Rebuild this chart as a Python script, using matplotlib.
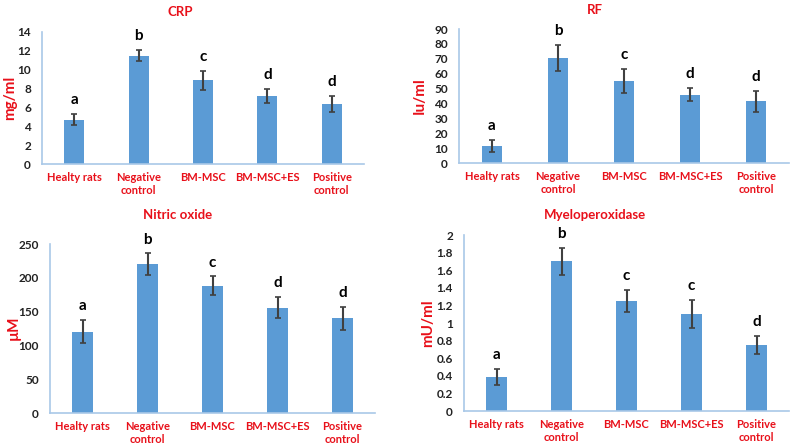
import matplotlib
matplotlib.use("Agg")
from matplotlib import pyplot as plt
import numpy as np

plt.rcParams['font.family'] = ['Lato', 'DejaVu Sans']
plt.rcParams['font.weight'] = 'bold'

groups = ['Healty rats', 'Negative\ncontrol', 'BM-MSC', 'BM-MSC+ES', 'Positive\ncontrol']

crp_vals = [4.7, 11.5, 8.9, 7.2, 6.35]
crp_err = [0.6, 0.6, 1.0, 0.75, 0.85]
crp_letters = ['a', 'b', 'c', 'd', 'd']

rf_vals = [11.5, 70.5, 55, 46, 41.5]
rf_err = [4, 8.5, 8, 4.5, 7]
rf_letters = ['a', 'b', 'c', 'd', 'd']

no_vals = [120, 220, 188, 156, 140]
no_err = [17, 16, 14, 16, 17]
no_letters = ['a', 'b', 'c', 'd', 'd']

mpo_vals = [0.39, 1.7, 1.25, 1.1, 0.75]
mpo_err = [0.09, 0.15, 0.12, 0.16, 0.1]
mpo_letters = ['a', 'b', 'c', 'c', 'd']

red = '#E8101A'
blue = '#5B9BD5'
W, H = 790, 448

fig = plt.figure(figsize=(7.9, 4.48), dpi=100)

# (left, right, top, bottom) in pixels
panels = [
    ('CRP', 'mg/ml', crp_vals, crp_err, crp_letters, (0, 14), np.arange(0, 15, 2), (42, 364, 32, 164), (180, 12), (10, 98)),
    ('RF', 'Iu/ml', rf_vals, rf_err, rf_letters, (0, 90), np.arange(0, 91, 10), (459, 789, 29, 163), (595, 10), (420, 96)),
    ('Nitric oxide', 'µM', no_vals, no_err, no_letters, (0, 250), np.arange(0, 251, 50), (50, 375, 244, 413), (178, 215), (14, 328)),
    ('Myeloperoxidase', 'mU/ml', mpo_vals, mpo_err, mpo_letters, (0, 2), np.round(np.arange(0, 2.01, 0.2), 1), (464, 789, 235, 411), (595, 215), (428, 323)),
]

for title, ylab, vals, err, letters, ylim, ticks, box, tpos, ypos in panels:
    l, r, t, b = box
    ax = fig.add_axes([l / W, 1 - b / H, (r - l) / W, (b - t) / H])
    x = np.arange(len(groups))
    ax.bar(x, vals, width=0.31, color=blue, zorder=2)
    ax.errorbar(x, vals, yerr=err, fmt='none', ecolor='#404040', elinewidth=1.5, capsize=2.5, capthick=1.2, zorder=3)
    for xi, v, e, s in zip(x, vals, err, letters):
        ax.annotate(s, (xi, v + e), xytext=(0, 5), textcoords='offset points',
                    ha='center', va='bottom', fontsize=11, fontweight='bold', color='black')
    ax.set_xlim(-0.5, 4.5)
    ax.set_ylim(*ylim)
    ax.set_yticks(ticks)
    ax.set_yticklabels([('%g' % v) for v in ticks], fontsize=8.5, fontweight='bold', color='#222222')
    ax.set_xticks(x)
    ax.set_xticklabels(groups, fontsize=8, fontweight='bold', color=red, linespacing=1.2)
    ax.tick_params(axis='both', length=0, pad=6)
    ax.tick_params(axis='y', pad=8)
    for sp in ['top', 'right']:
        ax.spines[sp].set_visible(False)
    for sp in ['left', 'bottom']:
        ax.spines[sp].set_color('#A9C8E8')
        ax.spines[sp].set_linewidth(1.2)
    fig.text(tpos[0] / W, 1 - tpos[1] / H, title, ha='center', va='center',
             fontsize=9.5, fontweight='bold', color=red)
    fig.text(ypos[0] / W, 1 - ypos[1] / H, ylab, ha='center', va='center', rotation=90,
             fontsize=11, fontweight='bold', color=red)

fig.savefig('out.png', dpi=100)
plt.close(fig)
